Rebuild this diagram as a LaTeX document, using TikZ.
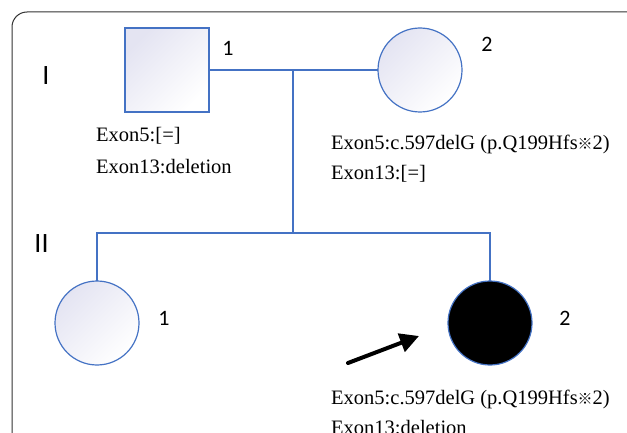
\documentclass[tikz,border=0pt]{standalone}
\usepackage{fontspec}
\setmainfont{Liberation Serif}
\newfontfamily\lblfont{Carlito}
\newfontfamily\cjk{Noto Sans CJK SC}
\usetikzlibrary{arrows.meta}
\definecolor{pblue}{HTML}{4472C4}
\definecolor{pshade}{HTML}{E4E4F2}
\tikzset{
  person/.style={draw=pblue, line width=1.2pt, inner sep=0pt, outer sep=0pt,
    left color=pshade, right color=white, shading angle=45},
  male/.style={person, rectangle, minimum width=84pt, minimum height=84pt},
  female/.style={person, circle, minimum size=84pt},
  affected/.style={draw=pblue, line width=1.2pt, inner sep=0pt, outer sep=0pt,
    circle, minimum size=84pt, fill=black},
  link/.style={draw=pblue, line width=1.2pt},
  gen/.style={font=\lblfont\fontsize{28}{30}\selectfont, inner sep=0pt},
  idx/.style={font=\lblfont\fontsize{22}{24}\selectfont, inner sep=0pt},
  geno/.style={font=\fontsize{20.5}{24}\selectfont, inner sep=0pt, anchor=base west},
}
\newcommand{\refmark}{{\cjk\fontsize{15}{15}\selectfont ※}}
\begin{document}
\begin{tikzpicture}[x=1pt,y=-1pt]
\useasboundingbox (0,0) rectangle (627,433);
\fill[white] (0,0) rectangle (627,433);
% frame
\draw[black!80, line width=1pt, rounded corners=15pt] (12,445) -- (12,12) -- (640,12);
% generation I
\node[male] (f1) at (167,70) {};
\node[female] (m1) at (420,70) {};
% generation II
\node[female] (c1) at (97,323) {};
\node[affected] (c2) at (490,323) {};
% connectors
\coordinate (mj) at (293,70);
\coordinate (mk) at (284,70);
\coordinate (sj) at (293,233);
\coordinate (s1) at (97,233);
\coordinate (s2) at (490,233);
\draw[link] (f1.east) -- (m1.west);
\draw[draw=pblue, line width=2.6pt] (mk) -- (mj);
\draw[link] (mj) -- (sj);
\draw[link] (c1.north) -- (s1) -- (s2) -- (c2.north);
% arrow
\coordinate (a1) at (348,363);
\coordinate (a2) at (419,336);
\draw[line width=4pt, line cap=round, -{Triangle[length=19pt,width=19pt]}] (a1) -- (a2);
% labels
\node[gen] (g1) at (46,76) {I};
\node[gen] (g2) at (41.5,243.5) {II};
\node[idx] (n11) at (228,48) {1};
\node[idx] (n12) at (487,44) {2};
\node[idx] (n21) at (164,318) {1};
\node[idx] (n22) at (565,318) {2};
% genotypes
\node[geno] (t1a) at (96,142) {Exon5:[=]};
\node[geno] (t1b) at (96,174) {Exon13:deletion};
\node[geno] (t2a) at (331,150) {Exon5:c.597delG (p.Q199Hfs\refmark2)};
\node[geno] (t2b) at (331,180) {Exon13:[=]};
\node[geno] (t3a) at (331,404) {Exon5:c.597delG (p.Q199Hfs\refmark2)};
\node[geno] (t3b) at (331,434) {Exon13:deletion};
\end{tikzpicture}
\end{document}
